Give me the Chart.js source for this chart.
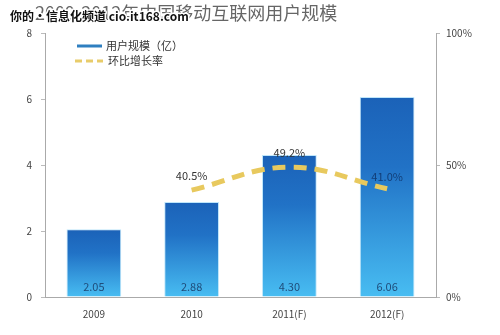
<!DOCTYPE html>
<html>
<head>
<meta charset="utf-8">
<script src="https://cdn.jsdelivr.net/npm/chart.js@4"></script>
<style>
  html, body { margin: 0; padding: 0; background: #fff; }
  #wrap { width: 500px; height: 335px; }
</style>
</head>
<body>
<div id="wrap"><canvas id="chart" width="500" height="335"></canvas></div>
<script>
// dati del grafico
const years = ['2009', '2010', '2011(F)', '2012(F)'];
const users = [2.05, 2.88, 4.30, 6.06];
const growth = [null, 40.5, 49.2, 41.0];
const leftTicks = [0, 2, 4, 6, 8];
const rightTicks = [0, 50, 100];

const titleText = '2009-2012年中国移动互联网用户规模';
const watermark = '你的·信息化频道 cio.it168.com';
const legendUsers = '用户规模（亿）';
const legendGrowth = '环比增长率';

const FONT = '"Noto Sans CJK SC", "Noto Sans", sans-serif';

// gradiente per ogni barra, dalla cima alla base
function barGradient(ctx) {
    const chart = ctx.chart;
    const y = chart.scales.y;
    if (!chart.chartArea || !y || ctx.raw === undefined) return '#2a7fcc';
    const top = y.getPixelForValue(ctx.raw);
    const bottom = y.getPixelForValue(0);
    const g = chart.ctx.createLinearGradient(0, top, 0, bottom);
    g.addColorStop(0, '#1b62b8');
    g.addColorStop(0.35, '#2172c6');
    g.addColorStop(1, '#48bdf2');
    return g;
}

// testi disegnati sul canvas: titolo, legenda, etichette
const decor = {
    id: 'decor',
    afterDatasetsDraw(chart) {
        const c = chart.ctx;
        const xs = chart.scales.x, y = chart.scales.y, y1 = chart.scales.y1;
        c.save();

        // etichette valori barre
        c.font = '11px ' + FONT;
        c.fillStyle = '#1f4c7a';
        c.textAlign = 'center';
        c.textBaseline = 'middle';
        users.forEach((v, i) => {
            c.fillText(v.toFixed(2), xs.getPixelForValue(i), y.getPixelForValue(0) - 10);
        });

        // etichette crescita
        growth.forEach((v, i) => {
            if (v === null) return;
            const px = xs.getPixelForValue(i), py = y1.getPixelForValue(v);
            c.fillStyle = i === 3 ? '#123e78' : '#333';
            const dy = i === 3 ? -12 : -14;
            c.fillText(v.toFixed(1) + '%', px, py + dy);
        });

        // legenda
        c.lineCap = 'butt';
        c.strokeStyle = '#2f7fc0';
        c.lineWidth = 3;
        c.beginPath(); c.moveTo(77, 46); c.lineTo(102, 46); c.stroke();
        c.strokeStyle = '#e8cc6a';
        c.lineWidth = 3;
        c.setLineDash([7, 4]);
        c.beginPath(); c.moveTo(75, 61); c.lineTo(103, 61); c.stroke();
        c.setLineDash([]);
        c.fillStyle = '#333';
        c.textAlign = 'left';
        c.font = '11px ' + FONT;
        c.fillText(legendUsers, 106, 46);
        c.fillText(legendGrowth, 108, 61);

        // titolo
        c.font = '18px ' + FONT;
        c.fillStyle = '#666';
        c.textAlign = 'left';
        c.fillText(titleText, 35, 13);

        // filigrana
        c.font = 'bold 12px ' + FONT;
        c.lineWidth = 3;
        c.strokeStyle = '#fff';
        c.lineJoin = 'round';
        c.strokeText(watermark, 10, 16);
        c.fillStyle = '#111';
        c.fillText(watermark, 10, 16);

        c.restore();
    }
};

new Chart(document.getElementById('chart'), {
    data: {
        labels: years,
        datasets: [
            {
                type: 'line',
                label: legendGrowth,
                data: growth,
                yAxisID: 'y1',
                borderColor: '#e8c95e',
                borderWidth: 5,
                borderDash: [13, 8],
                tension: 0.4,
                pointRadius: 0,
                spanGaps: false,
                order: 0
            },
            {
                type: 'bar',
                label: legendUsers,
                data: users,
                yAxisID: 'y',
                backgroundColor: barGradient,
                borderColor: '#bfe6fa',
                borderWidth: 1,
                barPercentage: 0.56,
                categoryPercentage: 1,
                order: 1
            }
        ]
    },
    options: {
        responsive: false,
        animation: false,
        layout: { padding: { top: 33, left: 0, right: 0, bottom: 0 } },
        plugins: { legend: { display: false }, tooltip: { enabled: false } },
        scales: {
            x: {
                grid: { display: false, drawTicks: false },
                border: { color: '#aaa', width: 1 },
                ticks: { color: '#444', font: { size: 10, family: FONT }, padding: 11 },
                afterFit: s => { s.height = 38; }
            },
            y: {
                position: 'left',
                min: 0, max: 8,
                afterBuildTicks: s => { s.ticks = leftTicks.map(v => ({ value: v })); },
                grid: { drawOnChartArea: false, tickLength: 4, color: '#bbb' },
                border: { color: '#aaa', width: 1 },
                ticks: { color: '#444', font: { size: 10, family: FONT }, padding: 9 },
                afterFit: s => { s.width = 45; }
            },
            y1: {
                position: 'right',
                min: 0, max: 100,
                afterBuildTicks: s => { s.ticks = rightTicks.map(v => ({ value: v })); },
                grid: { drawOnChartArea: false, tickLength: 4, color: '#bbb' },
                border: { color: '#aaa', width: 1 },
                ticks: { color: '#444', font: { size: 10, family: FONT }, padding: 6, callback: v => v + '%' },
                afterFit: s => { s.width = 64; }
            }
        }
    },
    plugins: [decor]
});
</script>
</body>
</html>
